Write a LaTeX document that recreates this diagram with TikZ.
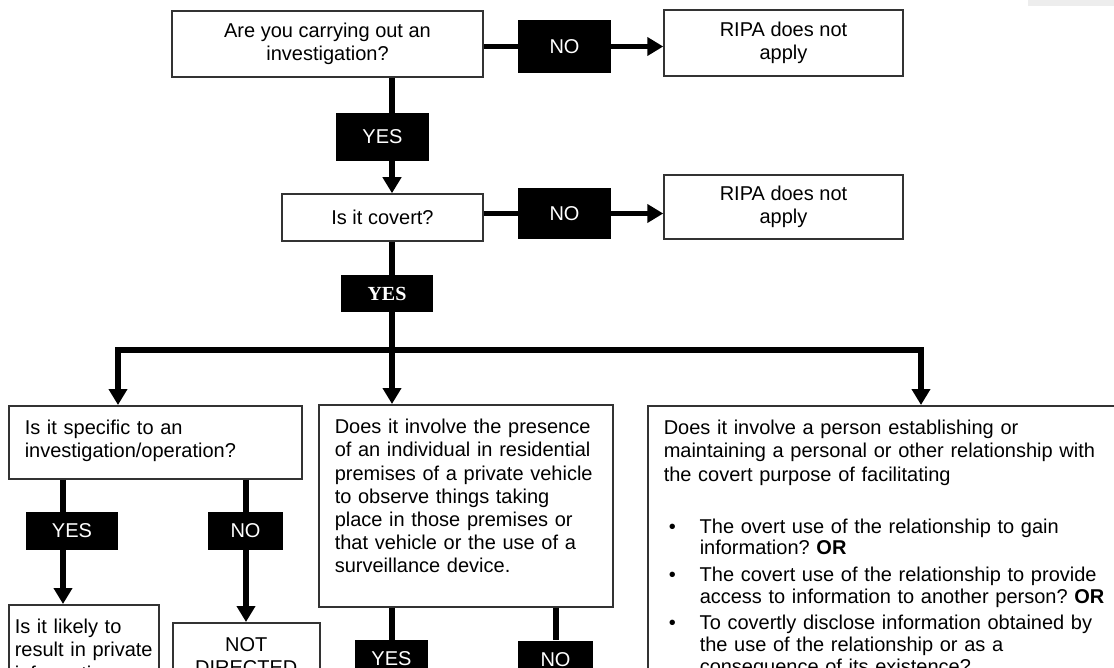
\documentclass[tikz,border=0pt]{standalone}
\usepackage{fontspec}
\setmainfont{Liberation Sans}
\newfontfamily\yesserif{Liberation Serif}
\usepackage{tikz}
\usetikzlibrary{arrows.meta}

% bullet line with hanging indent (break lines with \newline inside)
\newcommand{\relitem}[1]{\par\noindent\hangindent=18pt\hangafter=1%
  \hspace*{2.5pt}\makebox[15.5pt][l]{\textbullet}#1\par}

\begin{document}
\begin{tikzpicture}[x=0.5pt, y=-0.5pt, font=\fontsize{10}{11.6}\selectfont,
    qbox/.style={draw=black!80, line width=0.75pt, fill=white, align=center},
    tbox/.style={draw=black!80, line width=0.75pt, fill=white, align=left,
                 anchor=north west, inner xsep=8pt, inner ysep=4pt, text height=10.5pt},
    ansbox/.style={fill=black, text=white, inner sep=0pt},
    conn/.style={line width=2.8pt},
    arr/.style={conn, -{Triangle[length=8pt, width=9pt]}}]

    \useasboundingbox (0,0) rectangle (1114,668);
    \clip (0,0) rectangle (1114,668);
    \fill[black!7] (1028,0) rectangle (1114,6);

    % top questions
    \node[qbox, minimum width=155.5pt, minimum height=33pt] (invest) at (327.5,44)
      {Are you carrying out an\\investigation?};
    \node[qbox, minimum width=100.5pt, minimum height=23.5pt] (covert) at (382.5,217.5)
      {Is it covert?};
    \node[qbox, minimum width=119.5pt, minimum height=33pt] (ripaA) at (783.5,43)
      {RIPA does not\\apply};
    \node[qbox, minimum width=119.5pt, minimum height=32pt] (ripaB) at (783.5,207)
      {RIPA does not\\apply};

    % --- answers ---------------------------------------------------------
    \node[ansbox, minimum width=46.5pt, minimum height=26.5pt] (noA) at (564.5,46.5) {NO};
    \node[ansbox, minimum width=46.5pt, minimum height=25.5pt] (noB) at (564.5,213.5) {NO};
    \node[ansbox, minimum width=46.5pt, minimum height=24pt] (yesA) at (382.5,137) {YES};
    \node[ansbox, minimum width=46pt, minimum height=18.5pt, font=\yesserif\bfseries]
      (yesB) at (387,293.5) {YES};
    \node[ansbox, minimum width=46pt, minimum height=19pt] (yesC) at (72,531) {YES};
    \node[ansbox, minimum width=37.5pt, minimum height=19pt] (noC) at (245.5,531) {NO};
    \node[ansbox, minimum width=36.5pt, minimum height=19pt] (yesD) at (391.5,659) {YES};
    \node[ansbox, minimum width=37.5pt, minimum height=19pt] (noD) at (555.5,659.5) {NO};

    % --- second row questions --------------------------------------------
    \node[tbox, text width=130.5pt, text depth=18pt] (specific) at (8,405)
      {Is it specific to an\\investigation/operation?};
    \node[tbox, text width=131pt, text depth=82.5pt] (presence) at (318,404)
      {Does it involve the presence\\of an individual in residential\\premises of a private vehicle\\
       to observe things taking\\place in those premises or\\that vehicle or the use of a\\
       surveillance device.};
    \node[tbox, text width=226pt, text depth=200pt] (relation) at (647,405)
      {Does it involve a person establishing or\\
       maintaining a personal or other relationship with\\
       the covert purpose of facilitating\par
       \fontsize{10}{10.8}\selectfont\vspace{15.2pt}%
       \relitem{The overt use of the relationship to gain\newline information?\ \textbf{OR}}\vspace{2.6pt}%
       \relitem{The covert use of the relationship to provide\newline access to information to another person?\ \textbf{OR}}\vspace{2.6pt}%
       \relitem{To covertly disclose information obtained by\newline the use of the relationship or as a\newline consequence of its existence?}};
    \node[tbox, inner xsep=3pt, text width=69pt, text depth=60pt] (private) at (8,604)
      {Is it likely to\\result in private\\information};
    \node[tbox, align=center, inner xsep=3pt, text width=67.5pt, text depth=60pt] (notdir) at (172,622)
      {NOT\\DIRECTED};

    % --- connectors ------------------------------------------------------
    \coordinate (spine) at (392,350);
    \coordinate (colA) at (63,0);
    \coordinate (colB) at (246,0);
    \coordinate (colD) at (556,0);
    \coordinate (brL) at (118,350);
    \coordinate (brR) at (921,350);

    \draw[conn] (invest.south -| spine) -- (yesA.north -| spine);
    \draw[arr]  (yesA.south -| spine) -- (covert.north -| spine);
    \draw[conn] (invest.east |- noA.west) -- (noA.west);
    \draw[arr]  (noA.east) -- (noA.east -| ripaA.west);
    \draw[conn] (covert.east |- noB.west) -- (noB.west);
    \draw[arr]  (noB.east) -- (noB.east -| ripaB.west);
    \draw[conn] (covert.south -| spine) -- (yesB.north -| spine);
    \draw[conn] (yesB.south -| spine) -- (spine);
    \draw[arr]  (spine) -| (brL |- specific.north);
    \draw[arr]  (spine) -- (spine |- presence.north);
    \draw[arr]  (spine) -| (brR |- relation.north);

    \draw[conn] (specific.south -| colA) -- (yesC.north -| colA);
    \draw[arr]  (yesC.south -| colA) -- (private.north -| colA);
    \draw[conn] (specific.south -| colB) -- (noC.north -| colB);
    \draw[arr]  (noC.south -| colB) -- (notdir.north -| colB);
    \draw[conn] (presence.south -| spine) -- (yesD.north -| spine);
    \draw[conn] (presence.south -| colD) -- (noD.north -| colD);
\end{tikzpicture}
\end{document}
